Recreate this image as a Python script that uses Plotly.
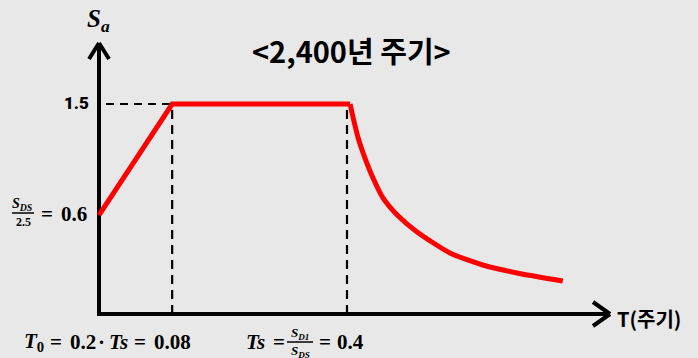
import plotly.graph_objects as go

# ---- data (values as drawn in the schematic) ----
T_ramp = [0.0, 0.118, 0.405]
Sa_ramp = [0.707, 1.5, 1.5]
T_decay = [0.405, 0.410, 0.418, 0.429, 0.442, 0.458, 0.481, 0.513, 0.566, 0.619, 0.674, 0.748]
Sa_decay = [1.5, 1.400, 1.257, 1.114, 0.971, 0.829, 0.707, 0.586, 0.436, 0.350, 0.293, 0.236]
T0_pos = 0.118   # drawn position of T0 = 0.08
Ts_pos = 0.400   # Ts = 0.4
Sa_max = 1.5

title_text = "&lt;2,400년 주기&gt;"
x_label = "T(주기)"
y_tick_label = "1.5"

W, H = 698, 358
X0PX, Y0PX = 99, 314      # pixel of origin
SX, SY = 620.0, 140.0     # pixels per unit

def px2x(px):
    return (px - X0PX) / SX

def py2y(py):
    return (Y0PX - py) / SY

BG = "#e8e8e8"
fig = go.Figure()

# dashed guide lines
for xv in (T0_pos, Ts_pos):
    fig.add_trace(go.Scatter(x=[xv, xv], y=[0, Sa_max], mode="lines",
                             line=dict(color="black", width=2.2, dash="9px,6px"),
                             hoverinfo="skip", showlegend=False))
fig.add_trace(go.Scatter(x=[px2x(106), T0_pos], y=[Sa_max, Sa_max], mode="lines",
                         line=dict(color="black", width=2.2, dash="8px,6px"),
                         hoverinfo="skip", showlegend=False))

# spectrum curve: ramp + plateau (straight), decay (smooth)
fig.add_trace(go.Scatter(x=T_ramp, y=Sa_ramp, mode="lines",
                         line=dict(color="#ff0000", width=5),
                         hoverinfo="skip", showlegend=False))
fig.add_trace(go.Scatter(x=T_decay, y=Sa_decay, mode="lines",
                         line=dict(color="#ff0000", width=5, shape="spline", smoothing=0.6),
                         hoverinfo="skip", showlegend=False))

shapes = []
def seg(x0, y0, x1, y1, w=4, color="black"):
    shapes.append(dict(type="line", xref="x", yref="y",
                       x0=px2x(x0), y0=py2y(y0), x1=px2x(x1), y1=py2y(y1),
                       line=dict(color=color, width=w), layer="below"))

# axes
seg(X0PX, Y0PX + 2, X0PX, 44)
seg(X0PX - 2, Y0PX, 609, Y0PX)
# arrow heads
seg(89, 59, X0PX, 43)
seg(109, 59, X0PX, 43)
seg(593, 302, 610, Y0PX)
seg(593, 326, 610, Y0PX)
# fraction bars
seg(12, 213, 34, 213, w=1.5)
seg(287, 342, 313, 342, w=1.5)

ann = []
def text(px, py, s, size, family="Noto Sans CJK KR", xanchor="center", weight="bold"):
    ann.append(dict(x=px2x(px), y=py2y(py), xref="x", yref="y", text=s, showarrow=False,
                    xanchor=xanchor, yanchor="middle",
                    font=dict(size=size, family=family, color="black", weight=weight)))

SERIF = "Liberation Serif"
text(351, 50, "<b>" + title_text + "</b>", 29)
text(91, 103, y_tick_label, 17, family="Roboto", xanchor="right", weight=900)
text(649, 318, "<b>" + x_label + "</b>", 20, xanchor="center")
text(98, 20, "<b><i>S</i><sub><i>a</i></sub></b>", 25, family=SERIF)

# S_DS / 2.5 = 0.6
text(22, 204, "<b><i>S</i><sub><i>DS</i></sub></b>", 14, family=SERIF)
text(23, 222, "<b>2.5</b>", 12, family=SERIF)
text(47, 214, "<b>=</b>", 21, family=SERIF)
text(59, 214, "<b>0.6</b>", 21, family=SERIF, xanchor="left")

# T0 = 0.2 · Ts = 0.08
BY = 342
text(22, BY, "<b><i>T</i><sub>0</sub></b>", 21, family=SERIF, xanchor="left")
text(56, BY, "<b>=</b>", 21, family=SERIF)
text(68, BY, "<b>0.2</b>", 21, family=SERIF, xanchor="left")
text(101, BY, "<b>·</b>", 21, family=SERIF)
text(107, BY, "<b><i>Ts</i></b>", 21, family=SERIF, xanchor="left")
text(140, BY, "<b>=</b>", 21, family=SERIF)
text(152, BY, "<b>0.08</b>", 21, family=SERIF, xanchor="left")

# Ts = S_D1 / S_DS = 0.4
text(244, BY, "<b><i>Ts</i></b>", 21, family=SERIF, xanchor="left")
text(279, BY, "<b>=</b>", 21, family=SERIF)
text(300, 333, "<b><i>S</i><sub><i>D1</i></sub></b>", 13, family=SERIF)
text(300, 351, "<b><i>S</i><sub><i>DS</i></sub></b>", 13, family=SERIF)
text(325, BY, "<b>=</b>", 21, family=SERIF)
text(335, BY, "<b>0.4</b>", 21, family=SERIF, xanchor="left")

fig.update_layout(
    width=W, height=H,
    margin=dict(l=0, r=0, t=0, b=0),
    paper_bgcolor=BG, plot_bgcolor=BG,
    xaxis=dict(range=[px2x(0), px2x(W)], visible=False, fixedrange=True),
    yaxis=dict(range=[py2y(H), py2y(0)], visible=False, fixedrange=True),
    shapes=shapes, annotations=ann, showlegend=False,
)

fig.write_html("out.html", config={"displayModeBar": False},
               post_script="document.body.style.margin='0';document.body.style.overflow='hidden';")
